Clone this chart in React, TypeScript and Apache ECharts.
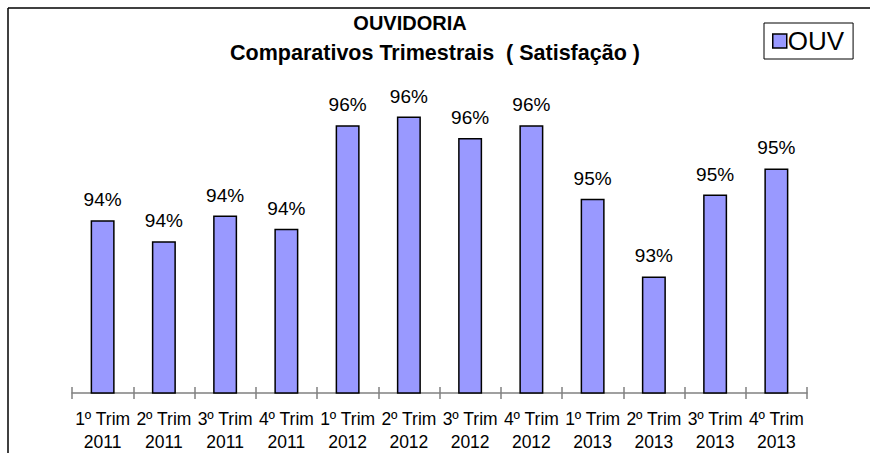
import React, { useEffect, useRef } from "react";
import * as echarts from "echarts";

const categories = [
  "1º Trim\n2011", "2º Trim\n2011", "3º Trim\n2011", "4º Trim\n2011",
  "1º Trim\n2012", "2º Trim\n2012", "3º Trim\n2012", "4º Trim\n2012",
  "1º Trim\n2013", "2º Trim\n2013", "3º Trim\n2013", "4º Trim\n2013",
];
const seriesName = "OUV";
const ouvValues = [94.03, 93.54, 94.14, 93.83, 96.25, 96.45, 95.95, 96.25, 94.53, 92.72, 94.63, 95.24];
const titleLine1 = "OUVIDORIA";
const titleLine2 = "Comparativos Trimestrais  ( Satisfação )";

const FONT = "'Liberation Sans', Arial, sans-serif";

export default function App() {
  const ref = useRef<HTMLDivElement>(null);
  useEffect(() => {
    if (!ref.current) return;
    const chart = echarts.init(ref.current, null, { renderer: "svg" });
    chart.setOption({
      animation: false,
      backgroundColor: "#ffffff",
      textStyle: { fontFamily: FONT },
      graphic: [
        { type: "line", shape: { x1: 8, y1: 8, x2: 870, y2: 8 }, style: { stroke: "#000", lineWidth: 1.5 } },
        { type: "line", shape: { x1: 8, y1: 8, x2: 8, y2: 453 }, style: { stroke: "#000", lineWidth: 1.5 } },
        {
          type: "text", x: 410, y: 23,
          style: { text: titleLine1, font: `bold 20px ${FONT}`, fill: "#000", textAlign: "center", textVerticalAlign: "middle" },
        },
        {
          type: "text", x: 435, y: 53,
          style: { text: titleLine2, font: `bold 21.5px ${FONT}`, fill: "#000", textAlign: "center", textVerticalAlign: "middle" },
        },
      ],
      legend: {
        left: 764, top: 23,
        padding: [5, 9, 5, 8],
        borderColor: "#000", borderWidth: 1,
        itemWidth: 14, itemHeight: 14, itemGap: 4,
        icon: "rect",
        textStyle: { fontSize: 26, color: "#000", fontFamily: FONT, padding: [0, 0, 0, -4] },
        itemStyle: { borderColor: "#000", borderWidth: 1.5 },
        data: [seriesName],
      },
      grid: { left: 72, right: 63, top: 93, bottom: 60, containLabel: false },
      xAxis: [
        {
          type: "category", data: categories, position: "bottom",
          axisLine: { lineStyle: { color: "#808080", width: 1.5 } },
          axisTick: { show: true, length: 6, lineStyle: { color: "#808080", width: 1.5 } },
          axisLabel: { color: "#000", fontSize: 17.5, lineHeight: 23, margin: 14, interval: 0, fontFamily: FONT },
        },
        {
          type: "category", data: categories, position: "bottom",
          axisLine: { show: false },
          axisTick: { show: true, inside: true, length: 6, lineStyle: { color: "#808080", width: 1.5 } },
          axisLabel: { show: false },
        },
      ],
      yAxis: { type: "value", min: 90, max: 97, show: false, splitLine: { show: false } },
      series: [
        {
          name: seriesName, type: "bar", data: ouvValues, barWidth: 24,
          itemStyle: { color: "#9999FF", borderColor: "#000", borderWidth: 1.5 },
          label: {
            show: true, position: "top", distance: 11, color: "#000", fontSize: 19, fontFamily: FONT,
            formatter: (p: any) => Math.round(p.value) + "%",
          },
        },
      ],
    });
    return () => chart.dispose();
  }, []);
  return <div ref={ref} style={{ position: "absolute", left: 0, top: 0, width: 870, height: 453 }} />;
}
